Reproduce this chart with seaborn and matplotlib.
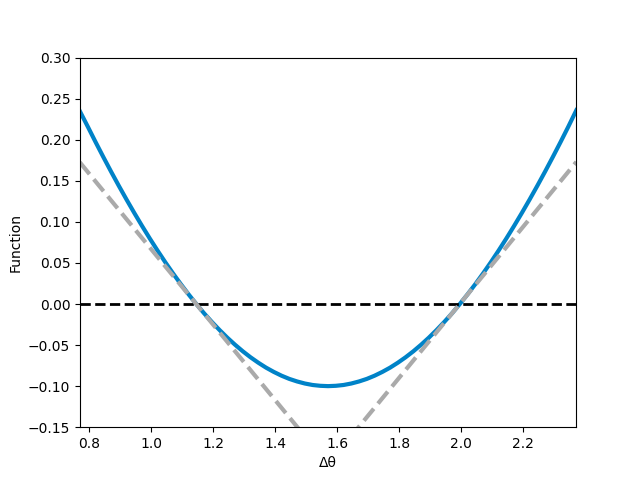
import matplotlib
matplotlib.use("Agg")
import matplotlib.pyplot as plt
import seaborn as sns

# Blue curve readings
curve_x = [0.770, 0.796, 0.821, 0.846, 0.871, 0.896, 0.921, 0.946, 0.971, 0.996,
           1.021, 1.046, 1.071, 1.096, 1.121, 1.146, 1.171, 1.196, 1.221, 1.246,
           1.271, 1.296, 1.321, 1.346, 1.371, 1.396, 1.421, 1.446, 1.471, 1.496,
           1.521, 1.546, 1.571, 1.596, 1.621, 1.646, 1.671, 1.696, 1.721, 1.746,
           1.771, 1.796, 1.821, 1.846, 1.871, 1.896, 1.921, 1.946, 1.971, 1.996,
           2.021, 2.046, 2.071, 2.096, 2.121, 2.146, 2.171, 2.196, 2.221, 2.246,
           2.271, 2.296, 2.321, 2.346, 2.372]
curve_y = [0.2350, 0.2159, 0.1972, 0.1790, 0.1612, 0.1439, 0.1271, 0.1108, 0.0950, 0.0797,
           0.0650, 0.0508, 0.0372, 0.0242, 0.0118, 0.0000, -0.0113, -0.0218, -0.0317, -0.0410,
           -0.0496, -0.0576, -0.0649, -0.0715, -0.0775, -0.0827, -0.0873, -0.0912, -0.0943, -0.0968,
           -0.0986, -0.0996, -0.1000, -0.0996, -0.0986, -0.0968, -0.0943, -0.0912, -0.0873, -0.0827,
           -0.0775, -0.0715, -0.0649, -0.0576, -0.0496, -0.0410, -0.0317, -0.0218, -0.0113, 0.0000,
           0.0118, 0.0242, 0.0372, 0.0508, 0.0650, 0.0797, 0.0950, 0.1108, 0.1271, 0.1439,
           0.1612, 0.1790, 0.1972, 0.2159, 0.2360]

# Gray tangent lines
left_x = [0.770, 1.50]
left_y = [0.1726, -0.1628]
right_x = [1.6416, 2.372]
right_y = [-0.1628, 0.1730]

# Zero line
zero_x = [0.770, 2.372]
zero_y = [0.0, 0.0]

fig, ax = plt.subplots(figsize=(6.4, 4.8), dpi=100)

sns.lineplot(x=curve_x, y=curve_y, ax=ax, color="#0083c8", lw=3, sort=False)
sns.lineplot(x=zero_x, y=zero_y, ax=ax, color="black", lw=2, linestyle="--", sort=False)
sns.lineplot(x=left_x, y=left_y, ax=ax, color="#aaaaaa", lw=3, linestyle="--", sort=False)
sns.lineplot(x=right_x, y=right_y, ax=ax, color="#aaaaaa", lw=3, linestyle="--", sort=False)

ax.set_xlim(0.7708, 2.3708)
ax.set_ylim(-0.15, 0.30)
ax.set_xticks([0.8, 1.0, 1.2, 1.4, 1.6, 1.8, 2.0, 2.2])
ax.set_yticks([-0.15, -0.10, -0.05, 0.00, 0.05, 0.10, 0.15, 0.20, 0.25, 0.30])
ax.set_xlabel("Δθ")
ax.set_ylabel("Function")

fig.savefig("out.png", dpi=100)
